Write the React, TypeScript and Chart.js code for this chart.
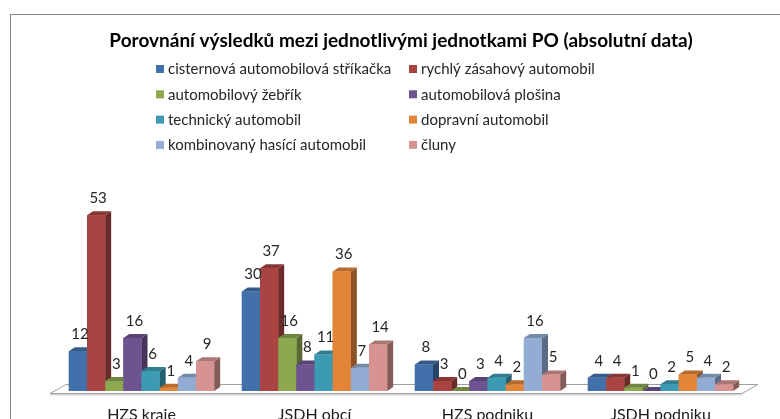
import React, { useEffect, useRef } from 'react';
import { Chart, registerables } from 'chart.js';

Chart.register(...registerables);

const chartTitle = 'Porovnání výsledků mezi jednotlivými jednotkami PO (absolutní data)';
const categories = ['HZS kraje', 'JSDH obcí', 'HZS podniku', 'JSDH podniku'];
const seriesNames = [
  'cisternová automobilová stříkačka',
  'rychlý zásahový automobil',
  'automobilový žebřík',
  'automobilová plošina',
  'technický automobil',
  'dopravní automobil',
  'kombinovaný hasící automobil',
  'čluny',
];
const cisternova = [12, 30, 8, 4];
const rychly = [53, 37, 3, 4];
const zebrik = [3, 16, 0, 1];
const plosina = [16, 8, 3, 0];
const technicky = [6, 11, 4, 2];
const dopravni = [1, 36, 2, 5];
const kombinovany = [4, 7, 16, 4];
const cluny = [9, 14, 5, 2];
const seriesValues = [cisternova, rychly, zebrik, plosina, technicky, dopravni, kombinovany, cluny];
const seriesColors = ['#4170AA', '#AA4442', '#8CA850', '#6D5491', '#3C9BB2', '#E38539', '#93ACD4', '#D69391'];
const yMax = 60;

const FONT = 'Lato, "Open Sans", sans-serif';

function shade(hex: string, f: number): string {
  const n = parseInt(hex.slice(1), 16);
  const r = Math.round(((n >> 16) & 255) * f);
  const g = Math.round(((n >> 8) & 255) * f);
  const b = Math.round((n & 255) * f);
  return `rgb(${r},${g},${b})`;
}

const bar3d = {
  id: 'bar3d',
  beforeDraw(chart: any) {
    const ctx = chart.ctx;
    ctx.save();
    ctx.fillStyle = '#ffffff';
    ctx.fillRect(0, 0, chart.width, chart.height);
    ctx.strokeStyle = '#8a8a8a';
    ctx.lineWidth = 1;
    ctx.strokeRect(10.5, 14.5, chart.width + 20, chart.height + 20);
    // legend (two columns)
    ctx.font = `15px ${FONT}`;
    ctx.textBaseline = 'middle';
    ctx.textAlign = 'left';
    const colX = [156, 409];
    for (let i = 0; i < seriesNames.length; i++) {
      const col = i % 2;
      const row = Math.floor(i / 2);
      const cy = 69 + row * 25.3;
      ctx.fillStyle = seriesColors[i];
      ctx.fillRect(colX[col], cy - 4, 8, 8);
      ctx.fillStyle = '#262626';
      ctx.fillText(seriesNames[i], colX[col] + 12, cy + 0.5);
    }
    ctx.restore();
  },
  beforeDatasetsDraw(chart: any) {
    const ctx = chart.ctx;
    const a = chart.chartArea;
    const fy = a.bottom + 2.5;
    const by = a.bottom - 6.5;
    const fl = a.left - 5;
    const fr = a.right - 5;
    ctx.save();
    ctx.fillStyle = '#ffffff';
    ctx.strokeStyle = '#a0a0a0';
    ctx.lineWidth = 1;
    ctx.beginPath();
    ctx.moveTo(fl, fy);
    ctx.lineTo(fr, fy);
    ctx.lineTo(fr + 16, by);
    ctx.lineTo(fl + 16, by);
    ctx.closePath();
    ctx.fill();
    ctx.stroke();
    ctx.fillStyle = '#d8d8d8';
    ctx.fillRect(fl, fy + 0.5, fr - fl, 1.5);
    ctx.restore();
  },
  afterDatasetsDraw(chart: any) {
    const ctx = chart.ctx;
    const DX = 6;
    const DY = 4;
    ctx.save();
    const n = chart.data.datasets.length;
    for (let c = 0; c < chart.data.labels.length; c++) {
      for (let d = 0; d < n; d++) {
        const el = chart.getDatasetMeta(d).data[c];
        const p = el.getProps(['x', 'y', 'base', 'width'], true);
        const l = p.x - p.width / 2;
        const r = p.x + p.width / 2;
        const col = seriesColors[d];
        ctx.fillStyle = shade(col, 0.62);
        ctx.beginPath();
        ctx.moveTo(r, p.y);
        ctx.lineTo(r + DX, p.y - DY);
        ctx.lineTo(r + DX, p.base - DY);
        ctx.lineTo(r, p.base);
        ctx.closePath();
        ctx.fill();
        ctx.fillStyle = shade(col, 0.8);
        ctx.beginPath();
        ctx.moveTo(l, p.y);
        ctx.lineTo(l + DX, p.y - DY);
        ctx.lineTo(r + DX, p.y - DY);
        ctx.lineTo(r, p.y);
        ctx.closePath();
        ctx.fill();
        ctx.fillStyle = col;
        ctx.fillRect(l, p.y, p.width, p.base - p.y);
      }
    }
    ctx.font = `15px ${FONT}`;
    ctx.fillStyle = '#262626';
    ctx.textAlign = 'center';
    ctx.textBaseline = 'middle';
    for (let d = 0; d < n; d++) {
      const meta = chart.getDatasetMeta(d);
      meta.data.forEach((el: any, i: number) => {
        const p = el.getProps(['x', 'y'], true);
        ctx.fillText(String(chart.data.datasets[d].data[i]), p.x + 2, p.y - 17);
      });
    }
    ctx.restore();
  },
};

export default function App() {
  const ref = useRef<HTMLCanvasElement | null>(null);
  useEffect(() => {
    document.body.style.margin = '0';
    const canvas = ref.current;
    if (!canvas) return;
    const chart = new Chart(canvas, {
      type: 'bar',
      data: {
        labels: categories,
        datasets: seriesNames.map((name, i) => ({
          label: name,
          data: seriesValues[i],
          backgroundColor: seriesColors[i],
          borderWidth: 0,
          categoryPercentage: 0.84,
          barPercentage: 1,
        })),
      },
      options: {
        responsive: false,
        animation: false,
        devicePixelRatio: 1,
        layout: { padding: { left: 55, right: 33, top: 0, bottom: 0 } },
        plugins: {
          legend: { display: false },
          tooltip: { enabled: false },
          title: {
            display: true,
            text: chartTitle,
            color: '#000000',
            font: { family: FONT, size: 19, weight: 'bold' },
            padding: { top: 29, bottom: 140.2 },
          },
        },
        scales: {
          x: {
            grid: { display: false, drawTicks: false },
            border: { display: false },
            ticks: { font: { family: FONT, size: 16 }, color: '#1a1a1a', padding: 14 },
            afterFit: (s: any) => {
              s.height = 28;
            },
          },
          y: { display: false, min: 0, max: yMax },
        },
      },
      plugins: [bar3d],
    } as any);
    return () => chart.destroy();
  }, []);
  return (
    <div style={{ width: 780, height: 419 }}>
      <canvas ref={ref} width={780} height={419} style={{ display: 'block' }} />
    </div>
  );
}
